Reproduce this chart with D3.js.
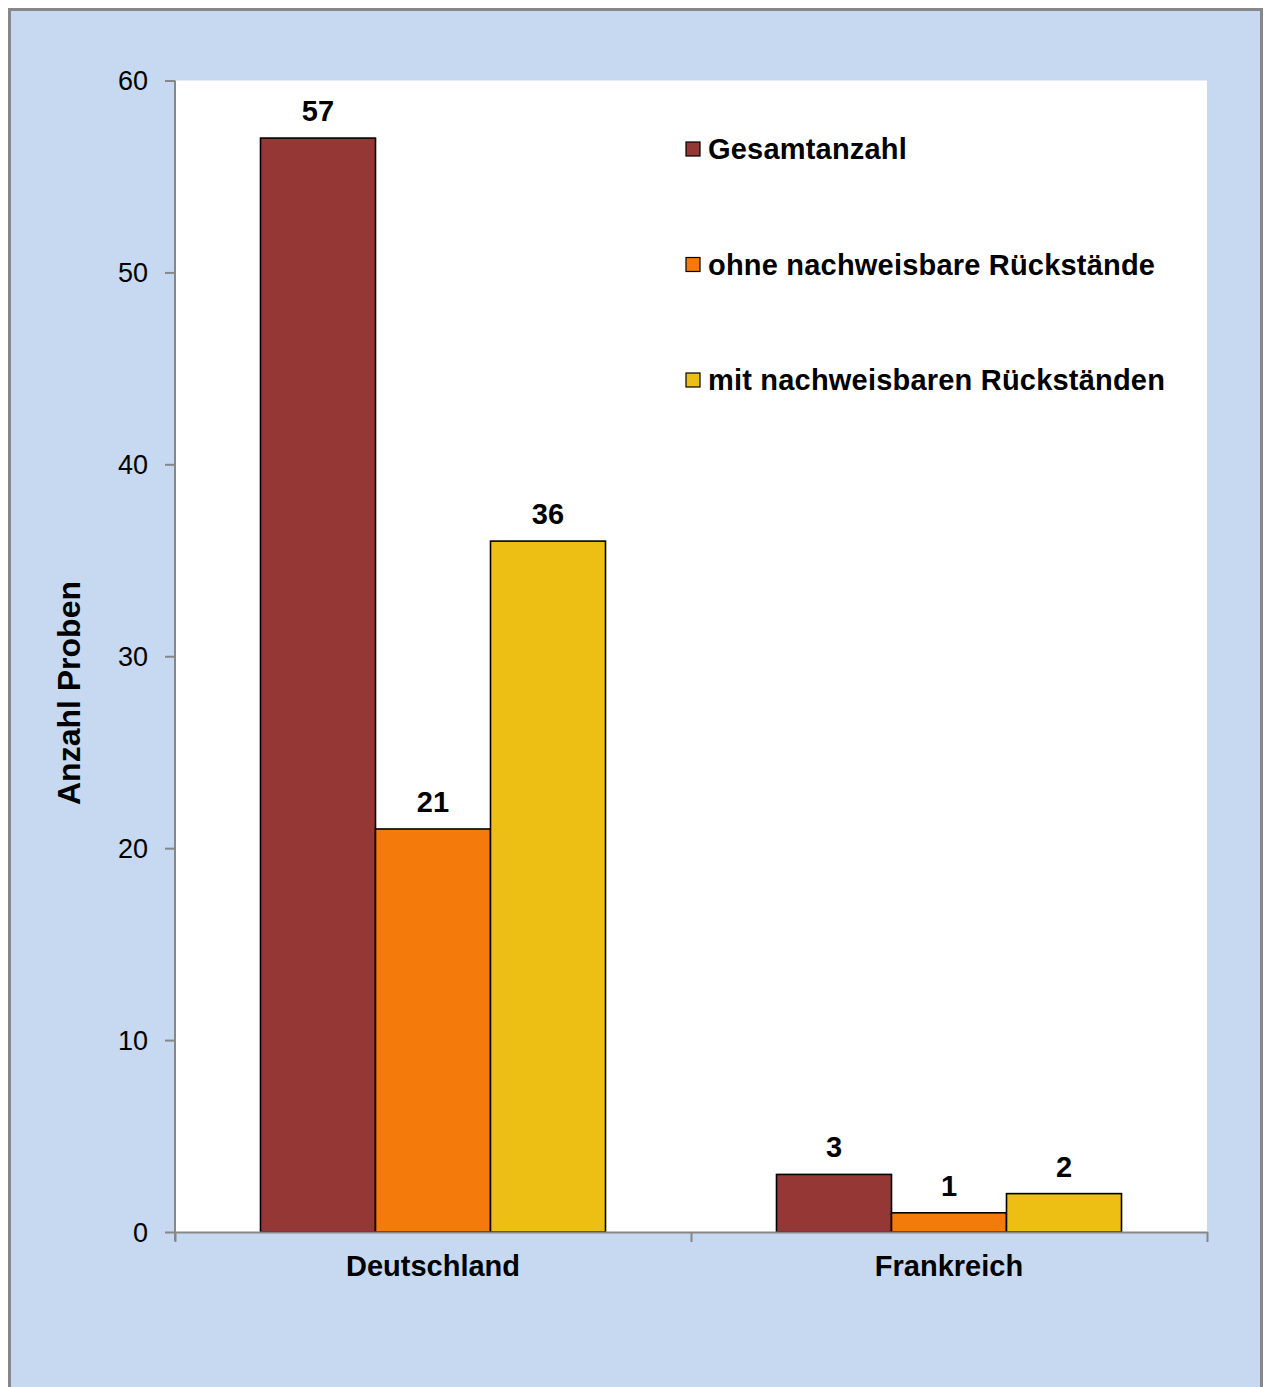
<!DOCTYPE html>
<html>
<head>
<meta charset="utf-8">
<script src="https://cdn.jsdelivr.net/npm/d3@7"></script>
<style>
  html, body { margin: 0; padding: 0; background: #ffffff; }
  svg { display: block; }
  text { font-family: "Liberation Sans", Arial, sans-serif; fill: #000; }
</style>
</head>
<body>
<svg id="chart" width="1264" height="1387"></svg>
<script>
// Probenzahlen nach Herkunftsland
const categories = ["Deutschland", "Frankreich"];
const seriesNames = ["Gesamtanzahl", "ohne nachweisbare Rückstände", "mit nachweisbaren Rückständen"];
const gesamt = [57, 3];
const ohneRueckstaende = [21, 1];
const mitRueckstaenden = [36, 2];
const yTicks = [0, 10, 20, 30, 40, 50, 60];
const seriesColors = ["#953735", "#F47A0C", "#EDBF14"];

const seriesValues = [gesamt, ohneRueckstaende, mitRueckstaenden];
const rows = categories.map((c, i) => ({
  category: c,
  values: seriesNames.map((s, j) => ({ series: s, value: seriesValues[j][i], color: seriesColors[j] }))
}));

const svg = d3.select("#chart");

// Hintergrund mit Rahmen
svg.append("rect")
  .attr("x", 9.5).attr("y", 9.5)
  .attr("width", 1252).attr("height", 1400)
  .attr("fill", "#C6D9F0")
  .attr("stroke", "#878787").attr("stroke-width", 3);

const plot = { left: 175, right: 1207, top: 80.5, bottom: 1232 };

// Zeichenfläche
svg.append("rect")
  .attr("x", plot.left).attr("y", plot.top)
  .attr("width", plot.right - plot.left).attr("height", plot.bottom - plot.top)
  .attr("fill", "#ffffff");

const y = d3.scaleLinear().domain([0, 60]).range([plot.bottom, plot.top]);
const x0 = d3.scaleBand().domain(categories).range([plot.left, plot.right]).padding(0);
const groupPad = 85.5;
const x1 = d3.scaleBand().domain(seriesNames).range([groupPad, x0.bandwidth() - groupPad]).padding(0);

// Balken
const groups = svg.append("g").selectAll("g")
  .data(rows).join("g")
  .attr("transform", d => `translate(${x0(d.category)},0)`);

groups.selectAll("rect")
  .data(d => d.values).join("rect")
  .attr("x", d => x1(d.series))
  .attr("y", d => y(d.value))
  .attr("width", x1.bandwidth())
  .attr("height", d => y(0) - y(d.value))
  .attr("fill", d => d.color)
  .attr("stroke", "#000").attr("stroke-width", 1.6);

// Wertebeschriftung
groups.selectAll("text.val")
  .data(d => d.values).join("text")
  .attr("class", "val")
  .attr("x", d => x1(d.series) + x1.bandwidth() / 2)
  .attr("y", d => y(d.value) - 17)
  .attr("text-anchor", "middle")
  .attr("font-size", 29).attr("font-weight", "bold")
  .text(d => d.value);

// Y-Achse
const yAxis = svg.append("g")
  .attr("transform", `translate(${plot.left},0)`)
  .call(d3.axisLeft(y).tickValues(yTicks).tickSize(10).tickPadding(17).tickSizeOuter(0));
yAxis.select(".domain").attr("stroke", "#878787").attr("stroke-width", 2)
  .attr("d", `M0,${plot.top}V${plot.bottom + 9}`);
yAxis.selectAll(".tick line").attr("stroke", "#878787").attr("stroke-width", 2);
yAxis.selectAll(".tick text")
  .attr("font-size", 27).attr("font-family", "'Liberation Sans', Arial, sans-serif")
  .attr("fill", "#000").attr("dy", "0.35em");

// X-Achse
const xTickPos = d3.scaleLinear().domain([0, categories.length]).range([plot.left, plot.right]);
const xAxis = svg.append("g")
  .attr("transform", `translate(0,${plot.bottom})`)
  .call(d3.axisBottom(xTickPos).tickValues(d3.range(categories.length + 1)).tickSize(10).tickFormat("").tickSizeOuter(0));
xAxis.select(".domain").attr("stroke", "#878787").attr("stroke-width", 2);
xAxis.selectAll(".tick line").attr("stroke", "#878787").attr("stroke-width", 2);

svg.append("g").selectAll("text")
  .data(categories).join("text")
  .attr("x", d => x0(d) + x0.bandwidth() / 2)
  .attr("y", 1276)
  .attr("text-anchor", "middle")
  .attr("font-size", 29).attr("font-weight", "bold")
  .text(d => d);

// Achsentitel
svg.append("text")
  .attr("transform", "translate(80,693) rotate(-90)")
  .attr("text-anchor", "middle")
  .attr("font-size", 32).attr("font-weight", "bold")
  .text("Anzahl Proben");

// Legende
const legend = svg.append("g").selectAll("g")
  .data(seriesNames).join("g")
  .attr("transform", (d, i) => `translate(686,${142 + i * 115.5})`);
legend.append("rect")
  .attr("width", 14).attr("height", 14)
  .attr("fill", (d, i) => seriesColors[i])
  .attr("stroke", "#000").attr("stroke-width", 1.2);
legend.append("text")
  .attr("x", 22).attr("y", 17)
  .attr("font-size", 29).attr("font-weight", "bold")
  .attr("letter-spacing", 0.2)
  .text(d => d);
</script>
</body>
</html>
